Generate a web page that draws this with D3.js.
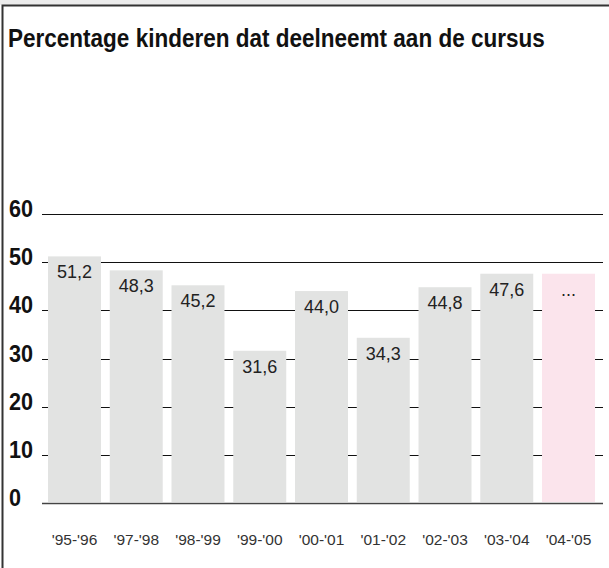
<!DOCTYPE html>
<html>
  <head>
    <meta charset="utf-8" />
    <title>Percentage kinderen</title>
    <style>
      body { margin: 0; background: #fff; }
      text { font-family: "Liberation Sans", Arial, sans-serif; }
    </style>
  </head>
  <body>
  <div id="container"></div>
  <script src="https://cdn.jsdelivr.net/npm/d3@7"></script>
  <script type="text/javascript">

    // chart data
    var years = ["'95-'96", "'97-'98", "'98-'99", "'99-'00", "'00-'01", "'01-'02", "'02-'03", "'03-'04", "'04-'05"];
    var values = [51.2, 48.3, 45.2, 31.6, 44.0, 34.3, 44.8, 47.6, 47.6];
    var labels = ["51,2", "48,3", "45,2", "31,6", "44,0", "34,3", "44,8", "47,6", "..."];
    var yTicks = [0, 10, 20, 30, 40, 50, 60];
    var title = "Percentage kinderen dat deelneemt aan de cursus";

    var width = 609;
    var height = 568;

    var svg = d3.select('#container').append('svg')
      .attr('width', width).attr('height', height);

    // grey strip on top + frame
    svg.append('rect').attr('x', 0).attr('y', 0).attr('width', width).attr('height', 5).attr('fill', '#ececec');
    svg.append('path').attr('d', 'M2.5,' + height + 'V5.5H' + width)
      .attr('fill', 'none').attr('stroke', '#333').attr('stroke-width', 2);

    // title, squeezed horizontally to look condensed
    var t = svg.append('text')
      .attr('x', 0).attr('y', 0)
      .attr('font-size', 26).attr('font-weight', 'bold').attr('fill', '#111')
      .text(title);
    var tw = t.node().getComputedTextLength();
    t.attr('transform', 'translate(8,47) scale(' + (537 / tw) + ',1)');

    var x = d3.scaleBand().domain(years).range([43.6, 599.4]).paddingInner(0.142).paddingOuter(0.071);
    var y = d3.scaleLinear().domain([0, 60]).range([503, 214]);

    // gridlines
    svg.append('g').selectAll('line').data(yTicks.filter(function(d){ return d > 0; }))
      .enter().append('line')
      .attr('x1', 42).attr('x2', 603)
      .attr('y1', function(d){ return Math.round(y(d)) + 0.5; })
      .attr('y2', function(d){ return Math.round(y(d)) + 0.5; })
      .attr('stroke', '#111').attr('stroke-width', 1);

    // y labels
    svg.append('g').selectAll('text').data(yTicks)
      .enter().append('text')
      .attr('transform', function(d){ return 'translate(9,' + (y(d) + 3) + ') scale(0.9,1)'; })
      .attr('font-size', 24).attr('font-weight', 'bold').attr('fill', '#111')
      .text(function(d){ return d; });

    // bars
    svg.append('g').selectAll('rect').data(values)
      .enter().append('rect')
      .attr('x', function(d, i){ return x(years[i]); })
      .attr('width', x.bandwidth())
      .attr('y', function(d){ return y(d); })
      .attr('height', function(d){ return y(0) - y(d) - 1; })
      .attr('fill', function(d, i){ return i === values.length - 1 ? '#fbe4ec' : '#e2e3e2'; });

    // baseline
    svg.append('line').attr('x1', 42).attr('x2', 603)
      .attr('y1', y(0) + 0.5).attr('y2', y(0) + 0.5)
      .attr('stroke', '#444').attr('stroke-width', 1.5);

    // value labels
    svg.append('g').selectAll('text').data(values)
      .enter().append('text')
      .attr('x', function(d, i){ return x(years[i]) + x.bandwidth() / 2; })
      .attr('y', function(d){ return y(d) + 22; })
      .attr('text-anchor', 'middle')
      .attr('font-size', 18).attr('fill', '#222')
      .text(function(d, i){ return labels[i]; });

    // x labels
    svg.append('g').selectAll('text').data(years)
      .enter().append('text')
      .attr('x', function(d){ return x(d) + x.bandwidth() / 2; })
      .attr('y', 545)
      .attr('text-anchor', 'middle')
      .attr('font-size', 15.5).attr('fill', '#333')
      .text(function(d){ return d; });

  </script>
  </body>
</html>
